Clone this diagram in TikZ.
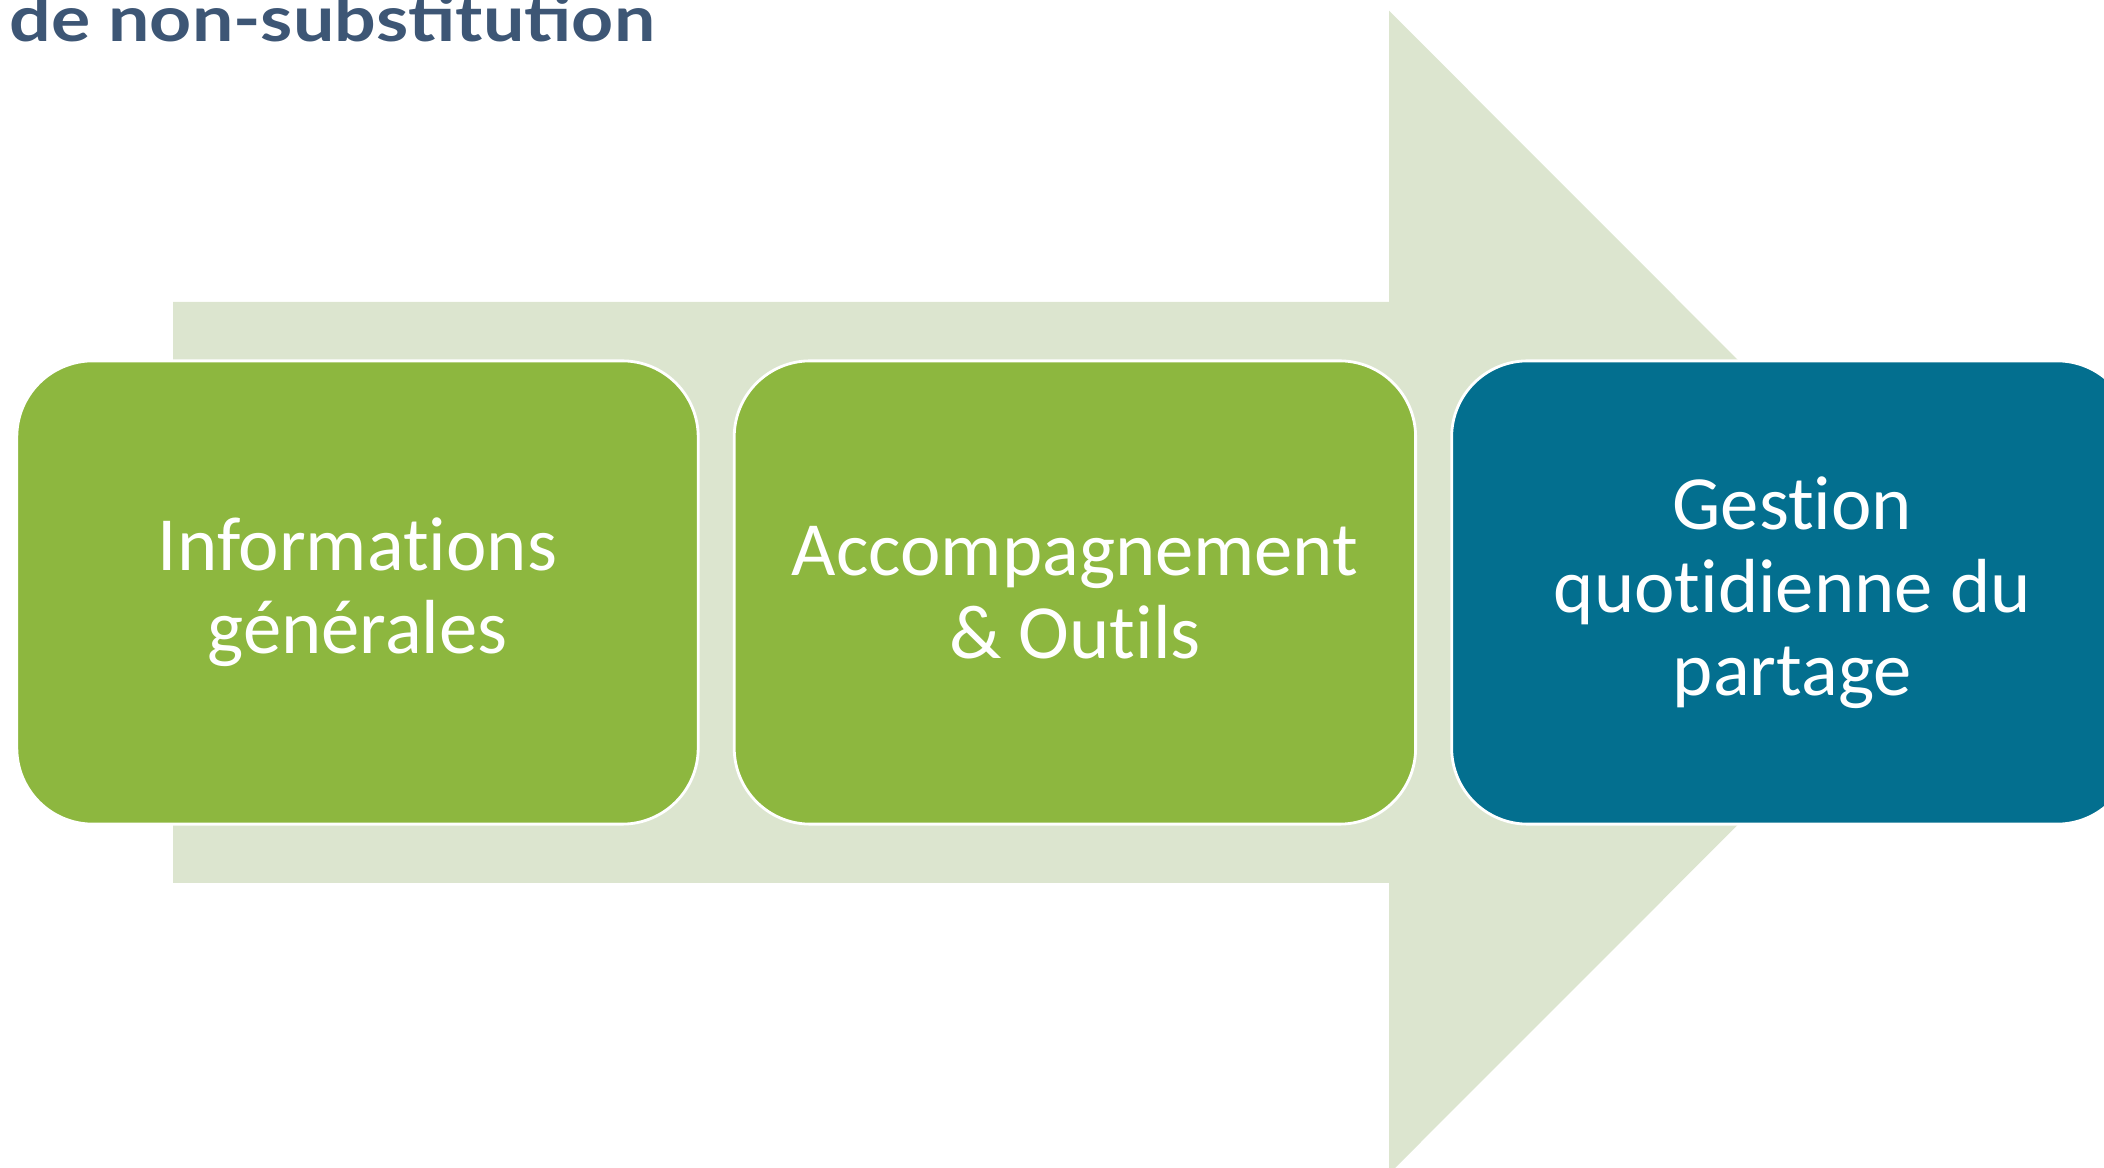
\documentclass[tikz,border=0pt]{standalone}
\usepackage{fontspec}
\setmainfont{Carlito}[Ligatures=NoCommon]
\newfontfamily\titlefont{Lato}[FakeStretch=1.16]
\usetikzlibrary{positioning}

\definecolor{arrowgreen}{HTML}{DCE5CF}
\definecolor{stagegreen}{HTML}{8DB73F}
\definecolor{stageblue}{HTML}{036F8F}
\definecolor{titleblue}{HTML}{3D5675}

\begin{document}
\begin{tikzpicture}[x=0.01cm,y=-0.01cm,
  stage/.style={draw=white,line width=0.8pt,rounded corners=0.76cm,outer sep=0pt,
    minimum width=6.81cm,minimum height=4.63cm,align=center,
    text=white,font=\fontsize{21.8}{23.6}\selectfont,node distance=0.36cm}]
  \useasboundingbox (0,0) rectangle (2104,1168);
  \clip (0,0) rectangle (2104,1168);
  % big arrow behind
  \fill[arrowgreen] (173,302) -- (1389,302) -- (1389,10.7) -- (1970,592.4)
    -- (1389,1174) -- (1389,883) -- (173,883) -- cycle;
  \node[anchor=base west,inner sep=0pt,text=titleblue,font=\titlefont\bfseries\fontsize{18}{20}\selectfont]
    (title) at (9,42) {de non-substitution};
  % stages
  \node[stage,fill=stagegreen] (info) at (357.5,592.5) {Informations\\générales};
  \node[stage,fill=stagegreen,right=of info] (outils) {Accompagnement\\\& Outils};
  \node[stage,fill=stageblue,right=of outils] (gestion) {Gestion\\quotidienne du\\partage};
\end{tikzpicture}
\end{document}
